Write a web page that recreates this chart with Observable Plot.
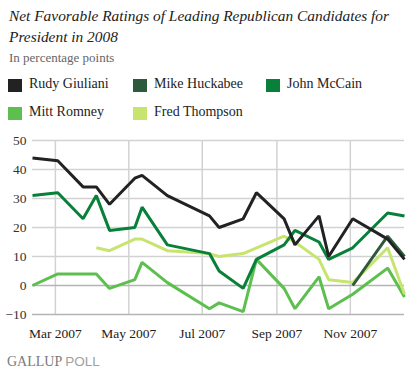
<!DOCTYPE html>
<html>
<head>
<meta charset="utf-8">
<script src="https://cdn.jsdelivr.net/npm/d3@7"></script>
<script src="https://cdn.jsdelivr.net/npm/@observablehq/plot@0.6"></script>
<style>
  html, body { margin: 0; padding: 0; background: #fff; }
  #wrap { position: relative; width: 420px; height: 374px; overflow: hidden; font-family: "Liberation Serif", "DejaVu Serif", serif; }
  #title { position: absolute; left: 9px; top: 5px; width: 410px; font-style: italic; font-size: 15.4px; line-height: 21px; color: #222; }
  #subtitle { position: absolute; left: 9px; top: 50px; font-size: 13px; color: #666; }
  .lg { position: absolute; font-size: 14px; color: #222; white-space: nowrap; font-family: "Liberation Serif", serif; }
  .sw { position: absolute; width: 14px; height: 13px; }
  #chart { position: absolute; left: 0; top: 128px; }
  #caption { position: absolute; left: 7px; top: 354px; font-size: 14px; color: #7a7a7a; }
  #caption .p { font-family: "Liberation Sans", Arial, sans-serif; color: #a0a0a0; font-size: 13.5px; }
</style>
</head>
<body>
<div id="wrap">
  <div id="title">Net Favorable Ratings of Leading Republican Candidates for President in 2008</div>
  <div id="subtitle">In percentage points</div>
  <div id="legend"></div>
  <div id="chart"></div>
  <div id="caption">GALLUP <span class="p">POLL</span></div>
</div>
<script>
const dates = ["2007-02-10","2007-03-03","2007-03-24","2007-04-04","2007-04-15","2007-05-06","2007-05-12","2007-06-02","2007-07-07","2007-07-15","2007-08-04","2007-08-15","2007-09-07","2007-09-16","2007-10-06","2007-10-14","2007-11-03","2007-12-02","2007-12-16"];
const giuliani = [44,43,34,34,28,37,38,31,24,20,23,32,23,14,24,10,23,16,9];
const huckabee = [null,null,null,null,null,null,null,null,null,null,null,null,null,null,null,null,0,17,10];
const mccain   = [31,32,23,31,19,20,27,14,11,5,-1,9,14,19,15,9,13,25,24];
const romney   = [0,4,4,4,-1,2,8,1,-8,-6,-9,9,-1,-8,3,-8,-3,6,-4];
const thompson = [null,null,null,13,12,16,16,12,11,10,11,null,17,15,9,2,1,13,-3];
const candidates = ["Rudy Giuliani","Mike Huckabee","John McCain","Mitt Romney","Fred Thompson"];
const colors = ["#222222","#2d5a3b","#08803a","#5cbf4e","#c6e46e"];
const seriesValues = [giuliani, huckabee, mccain, romney, thompson];
const yTicks = [-10,0,10,20,30,40,50];
const xTickDates = ["2007-03-01","2007-05-01","2007-07-01","2007-09-01","2007-11-01"];

const parse = d3.utcParse("%Y-%m-%d");
const rows = [];
seriesValues.forEach((vals, i) => {
  vals.forEach((v, j) => {
    if (v !== null) rows.push({name: candidates[i], date: parse(dates[j]), value: v});
  });
});
const xTicks = xTickDates.map(parse);
const drawOrder = ["Mitt Romney","Fred Thompson","John McCain","Mike Huckabee","Rudy Giuliani"];

// Legend
const legend = document.getElementById("legend");
const cols = [8, 133, 266];
candidates.forEach((c, i) => {
  const row = Math.floor(i / 3), col = i % 3;
  const top = 79 + row * 27.5;
  const sw = document.createElement("div");
  sw.className = "sw"; sw.style.left = cols[col] + "px"; sw.style.top = top + "px"; sw.style.background = colors[i];
  legend.appendChild(sw);
  const lb = document.createElement("div");
  lb.className = "lg"; lb.style.left = (cols[col] + 21) + "px"; lb.style.top = (top - 3) + "px"; lb.textContent = c;
  legend.appendChild(lb);
});

const fmt = d3.utcFormat("%b %Y");
const chart = Plot.plot({
  width: 420,
  height: 220,
  marginLeft: 32,
  marginRight: 16,
  marginTop: 12,
  marginBottom: 34,
  style: {fontFamily: "'Liberation Serif', serif", fontSize: "13.5px", color: "#222", background: "#fff"},
  x: {type: "utc", domain: [parse(dates[0]), parse(dates[dates.length - 1])]},
  y: {domain: [-10, 50]},
  color: {domain: candidates, range: colors},
  marks: [
    Plot.ruleY(yTicks.filter(d => d > 0), {stroke: "#d2d2d2", strokeWidth: 1.5}),
    Plot.ruleX(xTicks, {y1: -10, y2: 50, stroke: "#d2d2d2", strokeWidth: 1.5}),
    Plot.ruleY(yTicks.filter(d => d <= 0), {stroke: "#b4b4b4", strokeWidth: 1.5}),
    Plot.axisY(yTicks, {tickSize: 0, tickPadding: 6, label: null, fill: "#333"}),
    Plot.axisX(xTicks, {tickSize: 0, tickPadding: 14, label: null, tickFormat: fmt, fill: "#222"}),
    ...drawOrder.map(n => Plot.line(rows.filter(r => r.name === n), {x: "date", y: "value", stroke: "name", strokeWidth: 3, strokeLinejoin: "miter", strokeLinecap: "butt"}))
  ]
});
document.getElementById("chart").appendChild(chart);
</script>
</body>
</html>
